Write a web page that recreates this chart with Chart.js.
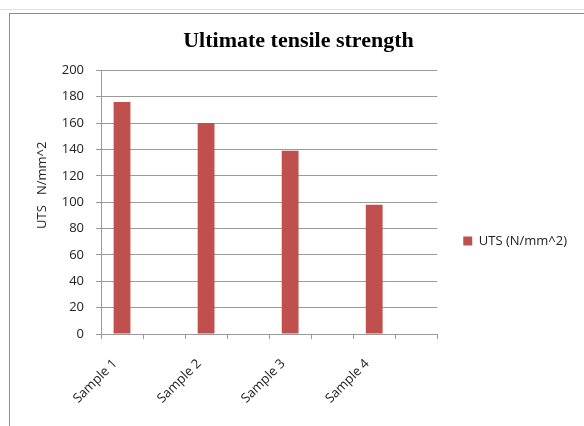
<!DOCTYPE html>
<html>
<head>
<meta charset="utf-8">
<script src="https://cdn.jsdelivr.net/npm/chart.js@4.4.1/dist/chart.umd.min.js"></script>
<style>
  html, body { margin: 0; padding: 0; width: 584px; height: 426px; overflow: hidden; background: #fff; }
  .sheet-line { position: absolute; left: 0; top: 9px; width: 584px; height: 1px; background: #dde3ea; }
  .frame { position: absolute; left: 9px; top: 13px; width: 600px; height: 440px; border-left: 1px solid #8c8c8c; border-top: 1px solid #8c8c8c; }
  .wrap { position: absolute; left: 10px; top: 14px; width: 584px; height: 454px; }
</style>
</head>
<body>
<div class="sheet-line"></div>
<div class="frame"></div>
<div class="wrap"><canvas id="utsChart" width="584" height="454"></canvas></div>
<script>
// Excel-style layout: empty slots between samples
const categories = ['Sample 1', '', 'Sample 2', '', 'Sample 3', '', 'Sample 4', ''];
const utsValues = [176, null, 160, null, 139, null, 98, null];
const seriesLabel = 'UTS (N/mm^2)';
const yMin = 0, yMax = 200, yStep = 20;

const GRID = '#9a9a9a';
const TEXT = '#222';
const sans = { family: 'Open Sans', size: 13 };

new Chart(document.getElementById('utsChart'), {
  type: 'bar',
  data: {
    labels: categories,
    datasets: [{
      label: seriesLabel,
      data: utsValues,
      backgroundColor: '#c0504d',
      borderWidth: 0,
      categoryPercentage: 1,
      barPercentage: 0.4
    }]
  },
  options: {
    responsive: false,
    animation: false,
    layout: { padding: { left: 11, right: 18, top: 0, bottom: 0 } },
    plugins: {
      title: {
        display: true, text: 'Ultimate tensile strength', color: '#000',
        font: { family: 'Liberation Serif', size: 22, weight: 'bold' },
        padding: { top: 14, bottom: 16 }
      },
      legend: {
        position: 'right',
        labels: { boxWidth: 9, boxHeight: 9, padding: 26, color: TEXT, font: sans }
      },
      tooltip: { enabled: false }
    },
    scales: {
      x: {
        offset: true,
        grid: { offset: true, drawOnChartArea: false, tickLength: 5, color: GRID },
        border: { color: GRID },
        ticks: { autoSkip: false, maxRotation: 45, minRotation: 45, padding: 17, labelOffset: -7, color: TEXT, font: sans },
        afterFit: s => { s.height = 134; }
      },
      y: {
        min: yMin, max: yMax,
        grid: { tickLength: 5, color: GRID },
        border: { color: GRID },
        ticks: { stepSize: yStep, padding: 12, color: TEXT, font: sans },
        title: {
          display: true, text: '          UTS   N/mm^2', color: TEXT, font: sans,
          padding: { top: 13, bottom: 0 }
        },
        afterFit: s => { s.width = 80; }
      }
    }
  }
});
</script>
</body>
</html>
